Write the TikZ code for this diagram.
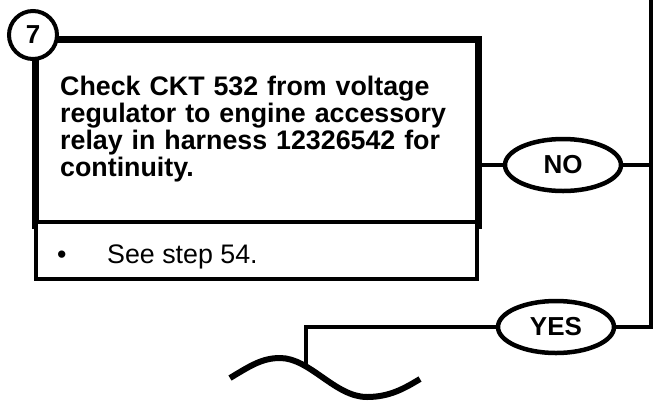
\documentclass[tikz,border=0pt]{standalone}
\usepackage{fontspec}
\setmainfont{Liberation Sans}
\usetikzlibrary{shapes.geometric}
\begin{document}
\begin{tikzpicture}[x=1pt,y=-1pt,
  thickline/.style={line width=7pt},
  conn/.style={line width=4.5pt},
  decision/.style={ellipse, draw, line width=4.5pt, minimum width=116pt, minimum height=52pt, inner sep=0pt, font=\fontsize{26}{26}\selectfont\bfseries},
  breakline/.style={line width=6pt}
]
\useasboundingbox (0,0) rectangle (654,400);
% main step box (thick, open at bottom)
\node[rectangle, minimum width=442pt, minimum height=185pt, inner sep=0pt] (box) at (257,132.5) {};
\draw[thickline, line cap=rect] (box.south west) -- (box.north west) -- (box.north east) -- (box.south east);
% note box
\node[draw, line width=4.5pt, fill=white, minimum width=441pt, minimum height=57pt, inner sep=0pt] (sub) at (256.5,250.5) {};
% step text
\node[anchor=north west, inner sep=0pt, text width=420pt, align=left, font=\fontsize{26.8}{26.8}\selectfont\bfseries] (txt) at (60,76) {Check CKT 532 from voltage\\ regulator to engine accessory\\ relay in harness 12326542 for\\ continuity.};
% step number
\node[circle, draw, line width=4pt, fill=white, minimum size=48pt, inner sep=0pt, font=\fontsize{26}{26}\selectfont\bfseries] (num) at (33,35) {7};
% note text
\node[anchor=base west, inner sep=0pt, font=\fontsize{26.8}{26.8}\selectfont] (note) at (57,263) {\makebox[50pt][l]{\textbullet}See step 54.};
% decisions
\node[decision] (no) at (563,165) {NO};
\node[decision] (yes) at (556,327) {YES};
\coordinate (top) at (651,-4);
\coordinate (brk) at (306,364);
\draw[conn] (box.east |- no.west) -- (no.west);
\draw[conn] (no.east) -- (no.east -| top);
\draw[conn] (yes.east) -| (top);
\draw[conn] (yes.west) -| (brk);
% break symbol
\draw[breakline] (230,378) .. controls (250,366) and (262,358) .. (280,358) .. controls (310,358) and (335,397) .. (367,397) .. controls (390,397) and (405,388) .. (420,379);
\end{tikzpicture}
\end{document}
